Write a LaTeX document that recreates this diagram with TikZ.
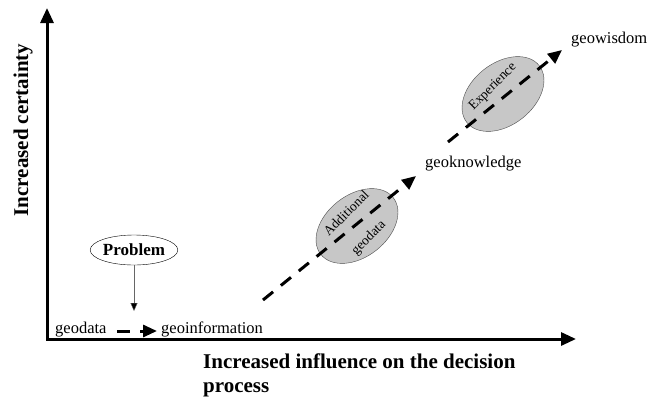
\documentclass[tikz,border=0pt]{standalone}
\usepackage{fontspec}
\setmainfont{Liberation Serif}
\usetikzlibrary{arrows.meta,shapes.geometric}

\tikzset{
	axisline/.style={line width=3pt, {Triangle[length=15pt,width=13pt]}-{Triangle[length=15pt,width=13pt]}},
	flowline/.style={line width=3pt, dash pattern=on 13pt off 10pt, -{Triangle[length=14pt,width=12pt]}},
	stage/.style={font=\fontsize{16.5}{18}\selectfont, inner sep=0pt, anchor=base west},
	blob/.style={ellipse, draw=black!70, fill=black!22, minimum width=92pt, minimum height=62pt, inner sep=0pt, rotate=38},
	blobtext/.style={font=\fontsize{13.5}{15}\selectfont, inner sep=0pt, rotate=45},
	axislabel/.style={font=\fontsize{21}{24}\selectfont\bfseries, inner sep=0pt}
}

\begin{document}
\begin{tikzpicture}[x=1pt,y=-1pt]
	\useasboundingbox (0,0) rectangle (648,408);
	% axes
	\draw[axisline] (47,8) -- (47,339) -- (576,339);
	\draw (23,130) node[axislabel, rotate=90] (ylabel) {Increased certainty}; %label
	\draw (203,392) node[axislabel, anchor=base west, align=left] (xlabel) {Increased influence on the decision\\process}; %label

	% ellipses (under the lines)
	\node[blob] (adddata) at (357,226) {};
	\node[blob] (experience) at (503,94) {};
	\draw (346,213) node[blobtext] (addtxt) {Additional}
		(369,238) node[blobtext] (geodatatxt) {geodata}
		(493,87) node[blobtext] (exptxt) {Experience};

	% stages
	\draw (55,333) node[stage] (geodata) {geodata}
		(161,333) node[stage] (geoinfo) {geoinformation}
		(425,167) node[stage] (geoknow) {geoknowledge}
		(571,43) node[stage] (geowisdom) {geowisdom};
	\coordinate (rise) at (263,300);

	% problem
	\node[ellipse, draw, thin, minimum width=85pt, minimum height=30pt, inner sep=0pt,
		font=\fontsize{17}{19}\selectfont\bfseries] (problem) at (134,250) {Problem};
	\coordinate (pin) at (134,311);
	\draw[black!60, -{Triangle[length=8pt,width=7pt,fill=black]}] (problem) -- (pin);

	%% flow %%
	\draw[flowline] ([shift={(-44pt,2pt)}]geoinfo.base west) -- ([shift={(-4pt,2pt)}]geoinfo.base west);
	\draw[flowline] (rise) -- ([shift={(-9pt,-9pt)}]geoknow.base west);
	\draw[flowline] ([shift={(23pt,25pt)}]geoknow.base west) -- ([shift={(-9pt,-7pt)}]geowisdom.base west);
\end{tikzpicture}
\end{document}
